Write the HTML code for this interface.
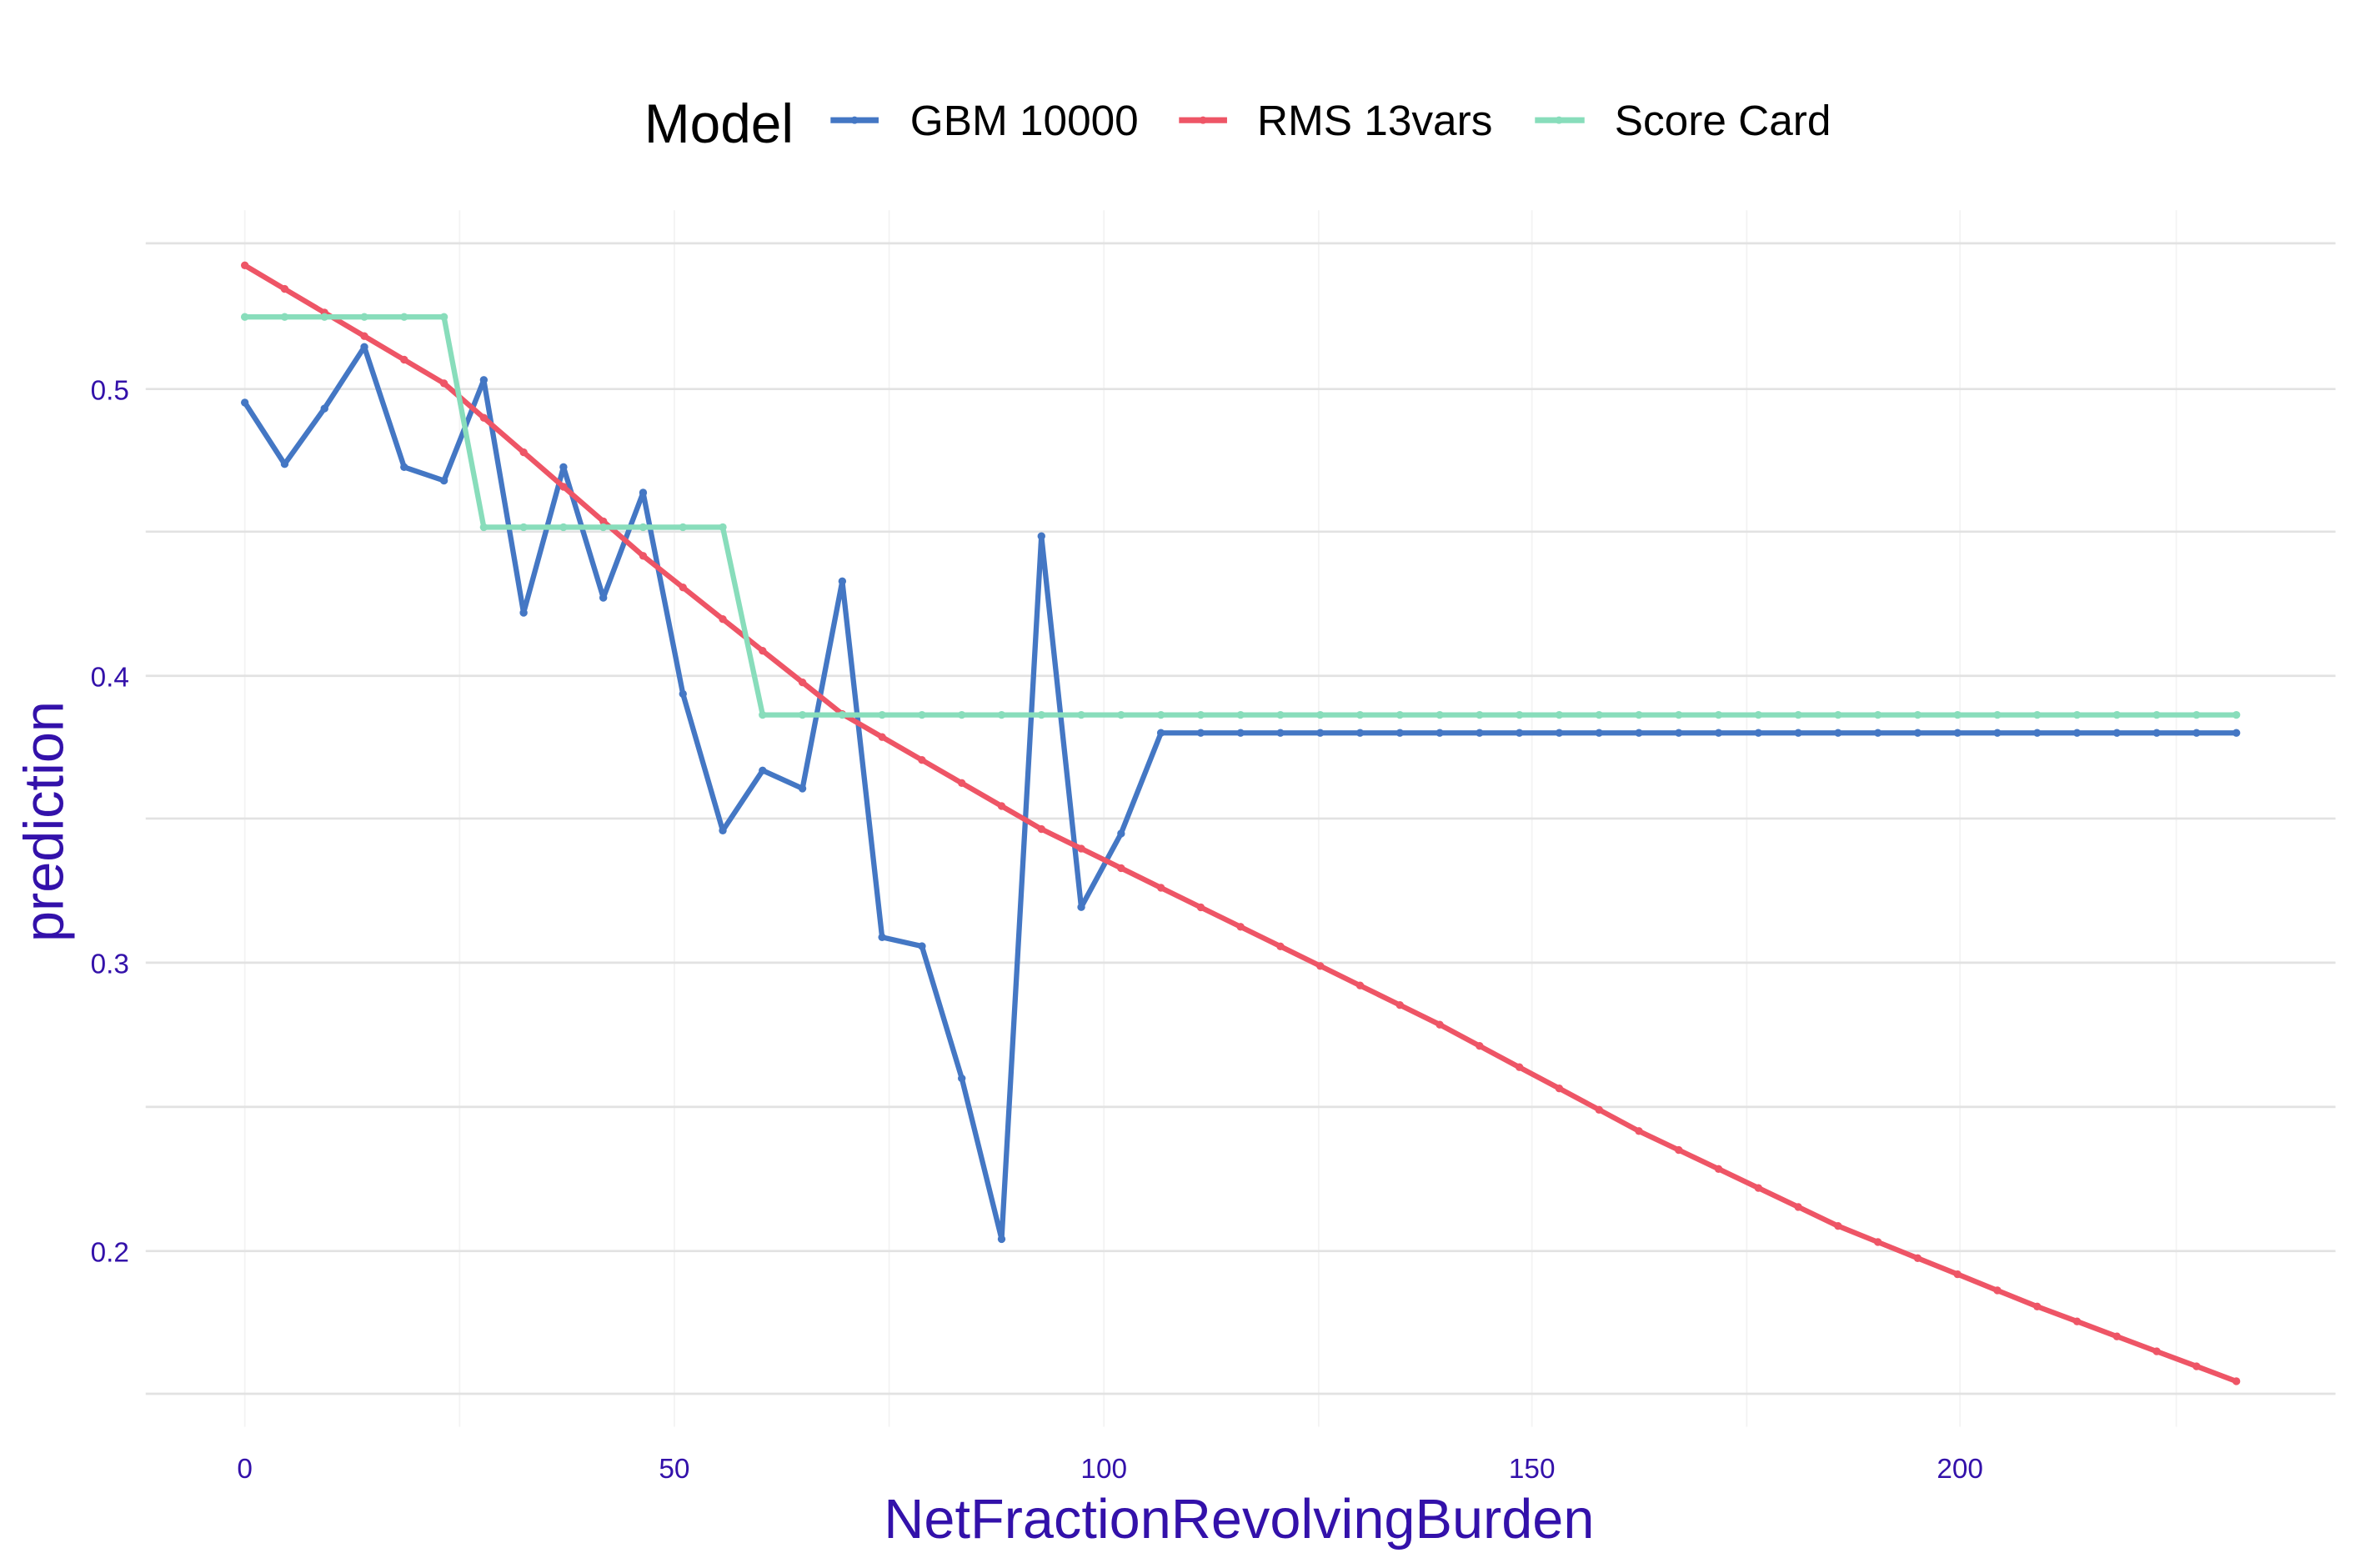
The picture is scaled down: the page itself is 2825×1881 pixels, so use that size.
<!DOCTYPE html>
<html><head><meta charset="utf-8"><style>html,body{margin:0;padding:0;background:#fff}svg{display:block}</style></head>
<body>
<svg id="s" width="2825" height="1881" viewBox="0 0 1568 1044" xmlns="http://www.w3.org/2000/svg" font-family="Liberation Sans, sans-serif">
<rect width="1568" height="1044" fill="#fff"/>
<g stroke="#f3f3f3" stroke-width="1">
<line x1="306" y1="140" x2="306" y2="950"/><line x1="592" y1="140" x2="592" y2="950"/><line x1="878" y1="140" x2="878" y2="950"/><line x1="1163" y1="140" x2="1163" y2="950"/><line x1="1449" y1="140" x2="1449" y2="950"/>
<line x1="163" y1="140" x2="163" y2="950"/><line x1="449" y1="140" x2="449" y2="950"/><line x1="735" y1="140" x2="735" y2="950"/><line x1="1020" y1="140" x2="1020" y2="950"/><line x1="1305" y1="140" x2="1305" y2="950"/>
</g>
<g stroke="#e2e2e2" stroke-width="1.5">
<line x1="97" y1="162" x2="1555" y2="162"/><line x1="97" y1="354" x2="1555" y2="354"/><line x1="97" y1="545" x2="1555" y2="545"/><line x1="97" y1="737" x2="1555" y2="737"/><line x1="97" y1="928" x2="1555" y2="928"/>
<line x1="97" y1="259" x2="1555" y2="259"/><line x1="97" y1="450" x2="1555" y2="450"/><line x1="97" y1="641" x2="1555" y2="641"/><line x1="97" y1="833" x2="1555" y2="833"/>
</g>
<g fill="#3311AA" font-size="18.5" text-anchor="end">
<text x="86" y="266">0.5</text><text x="86" y="457">0.4</text><text x="86" y="648">0.3</text><text x="86" y="840">0.2</text>
</g>
<g fill="#3311AA" font-size="18.5" text-anchor="middle">
<text x="163" y="984">0</text><text x="449" y="984">50</text><text x="735" y="984">100</text><text x="1020" y="984">150</text><text x="1305" y="984">200</text>
</g>
<text x="825" y="1024" fill="#3311AA" font-size="37" text-anchor="middle">NetFractionRevolvingBurden</text>
<text transform="translate(42,547) rotate(-90)" fill="#3311AA" font-size="37" text-anchor="middle">prediction</text>
<text x="429" y="95" font-size="36.5" fill="#000">Model</text>
<line x1="553" y1="80" x2="585" y2="80" stroke="#4477C4" stroke-width="4"/><circle cx="569" cy="80" r="2.5" fill="#4477C4"/>
<text x="606" y="90" font-size="28.5">GBM 10000</text>
<line x1="785" y1="80" x2="817" y2="80" stroke="#EE5566" stroke-width="4"/><circle cx="801" cy="80" r="2.5" fill="#EE5566"/>
<text x="837" y="90" font-size="28.5">RMS 13vars</text>
<line x1="1022" y1="80" x2="1055" y2="80" stroke="#88DDBB" stroke-width="4"/><circle cx="1038" cy="80" r="2.5" fill="#88DDBB"/>
<text x="1075" y="90" font-size="28.5">Score Card</text>
<g id="series"></g>
</svg>
<script>
var g=document.getElementById('series'),NS='http://www.w3.org/2000/svg';
function X(i){return 163+i*26.52;}
function Yv(v){return 259-(v-0.5)*1915;}
var gbm=[268,309,272,231,311,320,253,408,311,398,328,462,553,513,525,387,624,630,718,825,357,604,555,488];
while(gbm.length<51)gbm.push(488);
var sc=[];for(var i=0;i<51;i++)sc.push(i<=5?211:(i<=12?351:476));
var anc=[[0,0.543],[5,0.502],[10,0.442],[15,0.387],[20,0.347],[25,0.313],[30,0.279],[35,0.242],[40,0.209],[45,0.181],[50,0.155]];
var rms=[];for(var i=0;i<51;i++){var k=Math.min(9,Math.floor(i/5));var a=anc[k],b=anc[k+1];var t=(i-a[0])/(b[0]-a[0]);rms.push(Yv(a[1]+(b[1]-a[1])*t));}
function draw(arr,col){var p=arr.map(function(y,i){return X(i).toFixed(1)+','+y.toFixed(1)}).join(' ');
var pl=document.createElementNS(NS,'polyline');pl.setAttribute('points',p);pl.setAttribute('fill','none');pl.setAttribute('stroke',col);pl.setAttribute('stroke-width','3.5');pl.setAttribute('stroke-linejoin','round');g.appendChild(pl);
arr.forEach(function(y,i){var c=document.createElementNS(NS,'circle');c.setAttribute('cx',X(i));c.setAttribute('cy',y);c.setAttribute('r','2.6');c.setAttribute('fill',col);g.appendChild(c);});}
draw(gbm,'#4477C4');draw(rms,'#EE5566');draw(sc,'#88DDBB');
</script>
</body></html>
